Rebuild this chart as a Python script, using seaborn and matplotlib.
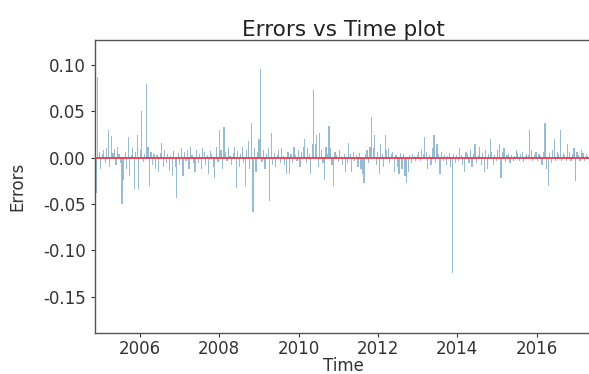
import numpy as np
import pandas as pd
import matplotlib
matplotlib.use("Agg")
import matplotlib.pyplot as plt
import matplotlib.dates as mdates
import seaborn as sns

# ---- data ----
start_date = "2004-11-26"
step = "14D"
errors = [
    -0.038, 0.087, 0.006, -0.012, 0.004, 0.008, -0.006, 0.010, 0.030, -0.010, 0.023, 0.005, 0.009,
    -0.008, 0.012, 0.004, -0.006, -0.050, -0.024, 0.006, -0.012, 0.022, -0.020, 0.003, 0.011, -0.034,
    0.006, 0.025, -0.034, 0.008, 0.050, -0.005, 0.004, 0.080, 0.012, -0.030, 0.006, -0.008, 0.004,
    -0.012, 0.003, -0.015, 0.005, 0.016, -0.010, 0.008, -0.006, 0.004, -0.014, 0.002, -0.020, 0.007,
    -0.010, -0.043, 0.005, -0.008, 0.010, -0.020, 0.006, -0.004, 0.008, -0.012, 0.012, 0.003, -0.006,
    -0.015, 0.008, -0.006, 0.004, -0.012, 0.010, 0.006, -0.008, 0.003, -0.018, 0.007, 0.004, -0.010,
    -0.022, 0.012, -0.005, 0.030, 0.008, -0.012, 0.033, 0.006, -0.004, 0.010, 0.002, -0.008, 0.005,
    0.012, -0.033, 0.007, -0.010, 0.004, 0.012, -0.006, -0.030, 0.008, 0.018, -0.012, 0.037, -0.058,
    0.010, -0.015, 0.006, 0.020, 0.096, -0.005, 0.008, -0.012, 0.004, 0.010, -0.047, 0.027, -0.008,
    0.005, -0.010, 0.003, 0.008, -0.006, 0.010, 0.002, -0.008, -0.018, 0.006, -0.018, 0.004, -0.006,
    0.012, 0.003, -0.004, 0.008, -0.010, 0.006, 0.012, 0.020, -0.006, 0.010, 0.004, -0.018, 0.015,
    0.073, 0.015, 0.025, -0.010, 0.027, 0.008, -0.006, -0.024, 0.012, 0.004, 0.034, 0.010, -0.008,
    -0.030, 0.006, 0.003, -0.005, 0.008, 0.002, -0.008, 0.004, -0.015, -0.006, 0.016, 0.004, -0.015,
    0.006, -0.004, 0.003, -0.010, 0.005, -0.012, -0.018, -0.027, 0.004, 0.008, -0.006, 0.012, 0.044,
    0.010, 0.025, -0.008, 0.006, -0.018, 0.015, 0.004, -0.010, 0.025, 0.008, 0.010, -0.006, 0.004,
    0.006, -0.015, 0.003, -0.010, -0.018, 0.005, -0.012, 0.004, -0.020, -0.027, -0.015, 0.003, -0.006,
    0.004, 0.002, -0.004, 0.003, 0.006, -0.003, 0.008, 0.004, 0.022, 0.006, -0.012, 0.003, -0.008,
    0.010, 0.025, -0.006, 0.015, 0.004, -0.018, 0.006, -0.004, 0.003, -0.008, 0.002, 0.005, -0.010,
    -0.124, 0.004, -0.006, 0.003, -0.004, 0.010, 0.003, -0.008, -0.015, 0.006, 0.004, -0.006, 0.008,
    -0.010, 0.004, 0.015, -0.006, 0.003, 0.012, -0.008, 0.005, -0.015, 0.008, -0.012, 0.004, 0.020,
    0.006, -0.008, 0.003, -0.004, 0.008, 0.015, -0.022, 0.006, 0.010, -0.005, 0.003, 0.004, -0.006,
    0.003, -0.004, 0.002, 0.008, 0.005, -0.003, 0.004, 0.006, -0.005, 0.002, 0.004, 0.003, 0.030,
    0.008, -0.004, 0.003, 0.006, -0.003, 0.004, 0.002, -0.008, 0.006, 0.038, -0.012, -0.030, 0.005,
    -0.006, 0.008, 0.020, -0.004, 0.006, 0.004, 0.030, -0.003, 0.005, 0.003, -0.004, 0.015, 0.006,
    -0.003, 0.004, 0.010, -0.025, 0.006, 0.003, -0.004, 0.008, 0.005, -0.003, 0.004, 0.002, 0.008,
    -0.004, 0.006,
]
x_limits = ["2004-11-15", "2017-05-18"]
y_limits = (-0.189, 0.127)
title = "Errors vs Time plot"
xlabel = "Time"
ylabel = "Errors"

dates = pd.date_range(start_date, periods=len(errors), freq=step)
df = pd.DataFrame({"Time": dates, "Errors": errors})

# ---- style ----
sns.set_style("ticks")
plt.rcParams["font.family"] = ["DejaVu Sans"]
plt.rcParams["xtick.labelsize"] = 12
plt.rcParams["ytick.labelsize"] = 12

fig = plt.figure(figsize=(5.89, 3.74), dpi=100)
ax = fig.add_axes([95 / 589, 1 - 333 / 374, 1.0 - 95 / 589 + 0.004, (333 - 40) / 374])

ax.bar(df["Time"], df["Errors"], width=11, color="#2f78a8", linewidth=0, alpha=0.5)
ax.axhline(0, color="#e8394f", linewidth=1.3, zorder=3)

ax.set_xlim(pd.Timestamp(x_limits[0]), pd.Timestamp(x_limits[1]))
ax.set_ylim(*y_limits)
ax.set_yticks([-0.15, -0.10, -0.05, 0.00, 0.05, 0.10])
ax.yaxis.set_major_formatter(matplotlib.ticker.FormatStrFormatter("%.2f"))
ax.xaxis.set_major_locator(mdates.YearLocator(2))
ax.xaxis.set_major_formatter(mdates.DateFormatter("%Y"))

for s in ax.spines.values():
    s.set_color("#555555")
    s.set_linewidth(1.0)
ax.tick_params(colors="#333333", length=3, width=0.8)
ax.tick_params(axis="x", pad=2)

ax.set_title(title, fontsize=15.5, color="#222222", pad=3)
ax.set_xlabel(xlabel, fontsize=12, color="#333333", labelpad=-1)
ax.set_ylabel(ylabel, fontsize=12, color="#333333", labelpad=12)

fig.savefig("out.png", dpi=100)
